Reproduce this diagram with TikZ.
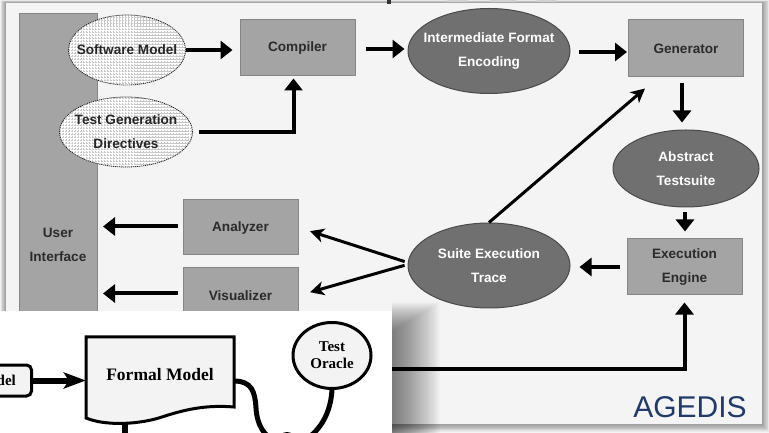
\documentclass[tikz,border=0pt]{standalone}
\usepackage{fontspec}
\setmainfont{Liberation Sans}
\newfontfamily\oldserif{Liberation Serif}
\usetikzlibrary{arrows.meta,shapes.geometric,patterns}

\definecolor{sheet}{HTML}{F4F4F4}
\definecolor{boxgray}{HTML}{A4A4A4}
\definecolor{boxline}{HTML}{858585}
\definecolor{ovalgray}{HTML}{707070}
\definecolor{ovalline}{HTML}{4A4A4A}
\definecolor{boxtext}{HTML}{2B2B2B}
\definecolor{navy}{HTML}{1F3A6B}
\definecolor{hatch}{HTML}{C8C8C8}
\definecolor{paper}{HTML}{F3F3F3}

\newcommand\diagfont{\fontsize{13.6bp}{24bp}\selectfont\bfseries}
\newcommand\sheetfont{\oldserif\bfseries}

\tikzset{
  proc/.style={draw=boxline, fill=boxgray, line width=1bp, minimum width=115bp,
    minimum height=56bp, inner sep=0, font=\diagfont, text=boxtext, align=center},
  store/.style={ellipse, draw=ovalline, fill=ovalgray, line width=1bp, inner sep=0},
  storetext/.style={font=\diagfont, text=white, align=center},
  source/.style={ellipse, draw=black!85, dash pattern=on 1.2bp off 0.8bp, line width=0.8bp,
    preaction={fill=white}, pattern=grid, pattern color=hatch, inner sep=0},
  sourcetext/.style={font=\diagfont, text=black!85, align=center},
  flow/.style={line width=4bp, line join=miter, -{Triangle[length=12bp,width=18bp]}},
  feed/.style={line width=3bp, -{Stealth[length=14bp,width=14bp,inset=4bp]}},
  ink/.style={draw=black, line width=3bp},
}

\begin{document}
\begin{tikzpicture}[x=1bp,y=-1bp]
\useasboundingbox (0,0) rectangle (769,433);
\fill[white] (0,0) rectangle (769,433);

% soft shadow under the sheet
\foreach \k in {1,...,10}
  \fill[black,opacity=0.045] (6-0.6*\k,3-0.3*\k) rectangle (762+0.8*\k,424+0.9*\k);
\fill[sheet] (6,3) rectangle (762,424);

% cut-off heading above the sheet
\fill[black!80] (387,0) rectangle (391,4);
\fill[black!18] (447,0) rectangle (467,2);
\fill[black!18] (490,0) rectangle (517,2);
\fill[black!18] (537,0) rectangle (557,2);

% user interface column
\node[proc, minimum width=78bp, minimum height=320bp, anchor=north west] (ui) at (19,13) {};
\node[font=\diagfont, text=boxtext, align=center] (uitext) at (58,245) {User\\Interface};

% inputs
\node[source, minimum width=117bp, minimum height=70bp,
  label={[sourcetext]center:Software Model}] (sm) at (127,50) {};
\node[source, minimum width=133bp, minimum height=70bp,
  label={[sourcetext]center:Test Generation\\Directives}] (tgd) at (126,132) {};

% tool chain
\node[proc] (comp) at (297.5,48) {Compiler};
\node[store, minimum width=162bp, minimum height=85bp,
  label={[storetext]center:Intermediate Format\\Encoding}] (ife) at (489,51) {};
\node[proc, minimum height=57bp] (gen) at (686,48.5) {Generator};
\node[store, minimum width=146bp, minimum height=77bp,
  label={[storetext]center:Abstract\\Testsuite}] (ats) at (686,168.5) {};
\node[proc] (ee) at (684.5,267) {Execution\\Engine};
\node[store, minimum width=162bp, minimum height=85bp,
  label={[storetext]center:Suite Execution\\Trace}] (set) at (489,265.5) {};
\node[proc, minimum height=55bp] (ana) at (240.5,227.5) {Analyzer};
\node[proc, minimum height=55bp] (vis) at (240.5,295.5) {Visualizer};

% data flow
\draw[flow, shorten >=7bp] (sm.east) -- (sm.east -| comp.west);
\draw[flow, shorten <=6bp, shorten >=2bp] (tgd.east) -| ([xshift=-4bp]comp.south);
\draw[flow, shorten <=10bp, shorten >=3bp] ([yshift=-1bp]comp.east) -- ([yshift=-1bp]comp.east -| ife.west);
\draw[flow, shorten <=8bp, shorten >=1bp] ([yshift=-1bp]ife.east) -- ([yshift=-1bp]ife.east -| gen.west);
\draw[flow, shorten <=6bp, shorten >=7bp] ([xshift=-4bp]gen.south) -- ([xshift=-4bp]gen.south |- ats.north);
\draw[flow, shorten <=5bp, shorten >=7bp] ([xshift=-1bp]ats.south) -- ([xshift=-1bp]ats.south |- ee.north);
\draw[flow, shorten <=7bp, shorten >=9bp] (ee.west) -- (ee.west -| set.east);
\draw[feed] (set.north) -- ([xshift=-41bp,yshift=-11bp]gen.south);
\draw[feed, shorten <=3bp, shorten >=12bp] ([yshift=3bp]set.west) -- (ana.east);
\draw[feed, shorten <=3bp, shorten >=12bp] ([yshift=1bp]set.west) -- (vis.east);
\draw[flow, shorten <=5bp, shorten >=5bp] ([yshift=1bp]ana.west) -- ([yshift=1bp]ana.west -| ui.east);
\draw[flow, shorten <=5bp, shorten >=5bp] ([yshift=2bp]vis.west) -- ([yshift=2bp]vis.west -| ui.east);
\coordinate (tap) at (380,369);
\draw[flow, shorten >=7bp] (tap) -| (ee.south);

% second sheet laid over the corner, with its soft shadow
\foreach \k in {1,...,30}
  \fill[black,opacity=0.018] (392,332-1.0*\k) rectangle (392+1.6*\k,433);
\fill[white] (0,311) rectangle (392,433);

\node[draw=black, line width=3bp, rounded corners=5bp, fill=paper, minimum width=72bp,
  minimum height=31bp, font=\sheetfont\fontsize{15bp}{17bp}\selectfont, anchor=east]
  (mdl) at (33,380.5) {Model};
\filldraw[fill=paper, draw=black, line width=3bp, line join=miter]
  (86,337) -- (234,337) -- (234,407)
  .. controls (210,405) and (190,408) .. (165,416)
  .. controls (140,425) and (105,426) .. (86,418) -- cycle;
\node[minimum width=148bp, minimum height=76bp, inner sep=0,
  font=\sheetfont\fontsize{17.5bp}{20bp}\selectfont] (fm) at (160,375) {Formal Model};
\draw[line width=6bp, -{Stealth[length=22bp,width=16bp,inset=5bp]}] (mdl.east) -- (mdl.east -| fm.west);
\draw[line width=6bp] (125,422) -- (125,440);
\node[ellipse, ink, fill=paper, minimum width=78bp, minimum height=66bp, inner sep=0,
  align=center, font=\sheetfont\fontsize{15bp}{17bp}\selectfont] (to) at (332,355.5) {Test\\Oracle};
\draw[line width=5bp] (234,381) .. controls (252,381) and (255,392) .. (256,408)
  .. controls (257,425) and (264,436) .. (276,442);
\draw[line width=5bp] (to.south) .. controls (331,405) and (326,428) .. (302,442);
\fill[black] (287,441) circle (9bp);

% product name
\node[anchor=base, font=\fontsize{30bp}{30bp}\selectfont, text=navy] (brand) at (690,417) {AGEDIS};
\end{tikzpicture}
\end{document}
